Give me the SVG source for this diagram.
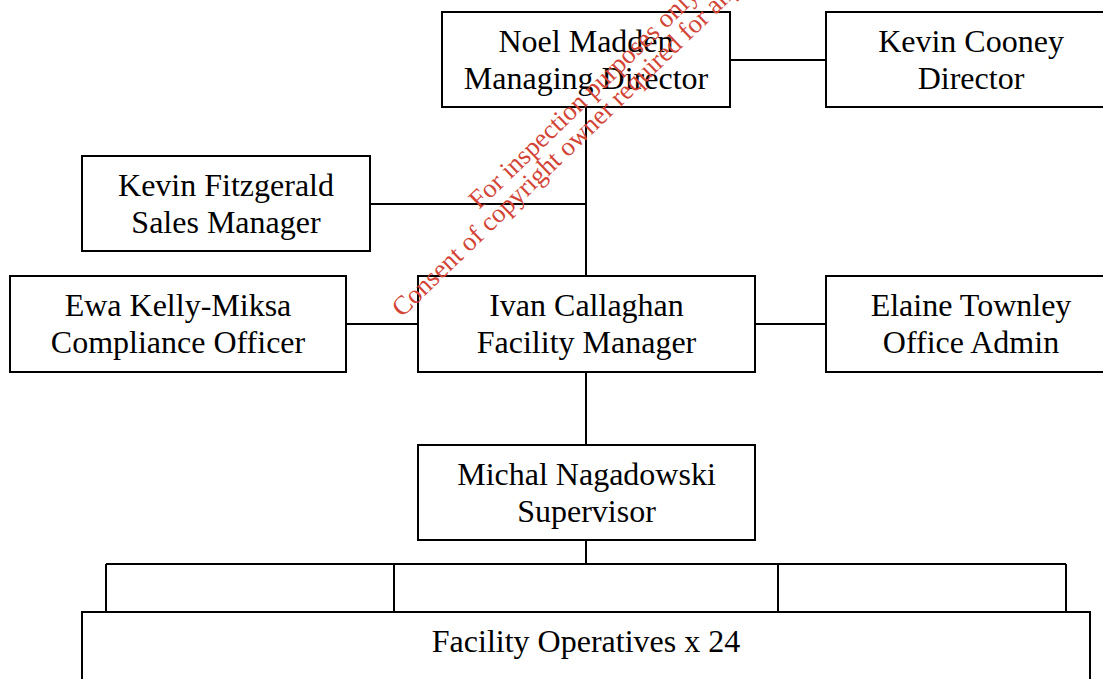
<svg xmlns="http://www.w3.org/2000/svg" width="1103" height="679" viewBox="0 0 1103 679">
  <style>
    .box { fill: #ffffff; stroke: #000000; stroke-width: 2; }
    .lbl { font-family: "Liberation Serif", "Times New Roman", serif; font-size: 32px; fill: #000000; text-anchor: middle; }
    .link { stroke: #000000; stroke-width: 2; fill: none; }
    .stamp { font-family: "Liberation Serif", "Times New Roman", serif; font-size: 26.5px; fill: #d24536; }
  </style>
  <rect x="0" y="0" width="1103" height="679" fill="#ffffff"/>

  <!-- connectors -->
  <g id="connectors" class="link">
    <line x1="730" y1="60" x2="826" y2="60"/>
    <line x1="586" y1="107" x2="586" y2="276"/>
    <line x1="370" y1="204" x2="586" y2="204"/>
    <line x1="346" y1="324" x2="418" y2="324"/>
    <line x1="755" y1="324" x2="826" y2="324"/>
    <line x1="586" y1="372" x2="586" y2="445"/>
    <line x1="586" y1="540" x2="586" y2="564"/>
    <line x1="106" y1="564" x2="1066" y2="564"/>
    <line x1="106" y1="564" x2="106" y2="612"/>
    <line x1="394" y1="564" x2="394" y2="612"/>
    <line x1="778" y1="564" x2="778" y2="612"/>
    <line x1="1066" y1="564" x2="1066" y2="612"/>
  </g>

  <g id="noel-madden">
    <rect class="box" x="442" y="12" width="288" height="95"/>
    <text class="lbl" x="586" y="52">Noel Madden</text>
    <text class="lbl" x="586" y="88.5">Managing Director</text>
  </g>

  <g id="kevin-cooney">
    <rect class="box" x="826" y="12" width="290" height="95"/>
    <text class="lbl" x="971" y="52">Kevin Cooney</text>
    <text class="lbl" x="971" y="88.5">Director</text>
  </g>

  <g id="kevin-fitzgerald">
    <rect class="box" x="82" y="156" width="288" height="95"/>
    <text class="lbl" x="226" y="196">Kevin Fitzgerald</text>
    <text class="lbl" x="226" y="232.5">Sales Manager</text>
  </g>

  <g id="ewa-kelly-miksa">
    <rect class="box" x="10" y="276" width="336" height="96"/>
    <text class="lbl" x="178" y="316">Ewa Kelly-Miksa</text>
    <text class="lbl" x="178" y="352.5">Compliance Officer</text>
  </g>

  <g id="ivan-callaghan">
    <rect class="box" x="418" y="276" width="337" height="96"/>
    <text class="lbl" x="586.5" y="316">Ivan Callaghan</text>
    <text class="lbl" x="586.5" y="352.5">Facility Manager</text>
  </g>

  <g id="elaine-townley">
    <rect class="box" x="826" y="276" width="290" height="96"/>
    <text class="lbl" x="971" y="316">Elaine Townley</text>
    <text class="lbl" x="971" y="352.5">Office Admin</text>
  </g>

  <g id="michal-nagadowski">
    <rect class="box" x="418" y="445" width="337" height="95"/>
    <text class="lbl" x="586.5" y="485">Michal Nagadowski</text>
    <text class="lbl" x="586.5" y="521.5">Supervisor</text>
  </g>

  <g id="facility-operatives">
    <rect class="box" x="82" y="612" width="1008" height="90"/>
    <text class="lbl" x="586" y="652">Facility Operatives x 24</text>
  </g>

  <!-- inspection stamp across the chart -->
  <g id="stamp" transform="translate(479,210) rotate(-44)">
    <text class="stamp" x="0" y="0">For inspection purposes only.</text>
    <text class="stamp" x="-130.4" y="24.1">Consent of copyright owner required for any other use.</text>
  </g>
</svg>
